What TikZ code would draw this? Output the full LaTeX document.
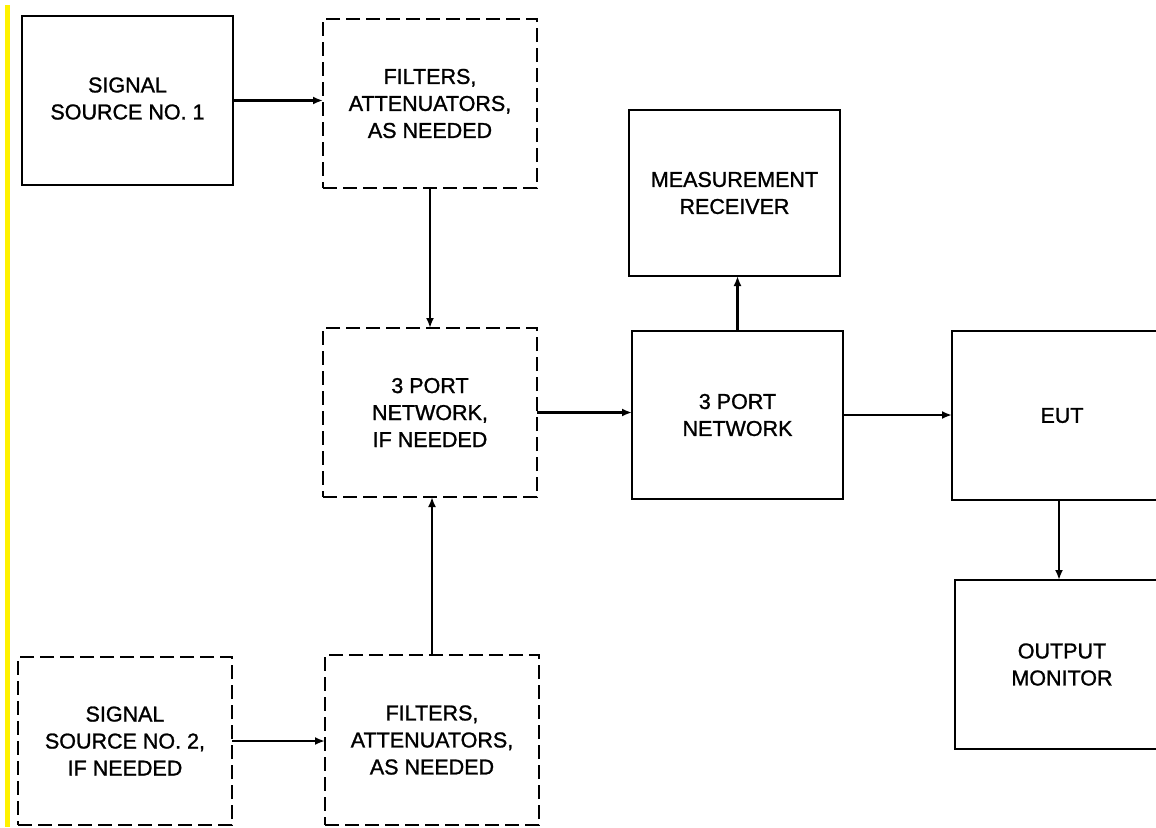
\documentclass[tikz,border=0pt]{standalone}
\usepackage{fontspec}
\setmainfont{Liberation Sans}[FakeBold=1.2]
\usetikzlibrary{arrows.meta}

\begin{document}
\begin{tikzpicture}[x=1pt, y=-1pt,
  blk/.style={draw=black, line width=2.8pt, rectangle, inner sep=0pt, outer sep=0pt,
              align=center, font=\fontsize{21.5}{27}\selectfont},
  dblk/.style={blk, line width=2.4pt, dash pattern=on 14pt off 6pt},
  conn/.style={draw=black, line width=2.2pt, -{Latex[length=10pt,width=8pt]}}
]
\useasboundingbox (0,0) rectangle (1156,827);
\fill[white] (0,0) rectangle (1156,827);

% margin bar on the left
\fill[yellow] (5,5) rectangle (10,827);

% signal chain, upper branch
\node[blk, minimum width=211pt, minimum height=169pt] (ss1) at (127.5,100.5)
  {\raisebox{-3pt}{\begin{tabular}{@{}c@{}}SIGNAL\\SOURCE NO. 1\end{tabular}}};
\node[dblk, minimum width=214pt, minimum height=169pt] (f1) at (430,103.5)
  {FILTERS,\\ATTENUATORS,\\AS NEEDED};

% combining network
\node[dblk, minimum width=214pt, minimum height=169pt] (pn1) at (430,412.5)
  {3 PORT\\NETWORK,\\IF NEEDED};

% signal chain, lower branch
\node[dblk, minimum width=214pt, minimum height=168pt] (ss2) at (125,741)
  {SIGNAL\\SOURCE NO. 2,\\IF NEEDED};
\node[dblk, minimum width=214pt, minimum height=170pt] (f2) at (432,740)
  {FILTERS,\\ATTENUATORS,\\AS NEEDED};

% measurement side
\node[blk, minimum width=211pt, minimum height=166pt] (mr) at (734.5,193)
  {MEASUREMENT\\RECEIVER};
\node[blk, minimum width=211pt, minimum height=168pt] (pn) at (737.5,415)
  {3 PORT\\NETWORK};
\node[blk, minimum width=220pt, minimum height=169pt] (eut) at (1062,415.5)
  {\raisebox{-8pt}{EUT}};
\node[blk, minimum width=214pt, minimum height=169pt] (om) at (1062,664.5)
  {OUTPUT\\MONITOR};

% connectors
\draw[conn] (ss1.east) -- (f1.west |- ss1.east);
\draw[conn] (f1.south) -- (pn1.north);
\draw[conn] (f2.north) -- (pn1.south -| f2.north);
\draw[conn] (ss2.east) -- (f2.west |- ss2.east);
\draw[conn] (pn1.east) -- (pn.west |- pn1.east);
\draw[conn] (pn.north) -- (mr.south -| pn.north);
\draw[conn] (pn.east) -- (eut.west |- pn.east);
\draw[conn] (eut.south -| 1059,0) -- (om.north -| 1059,0);
\end{tikzpicture}
\end{document}
